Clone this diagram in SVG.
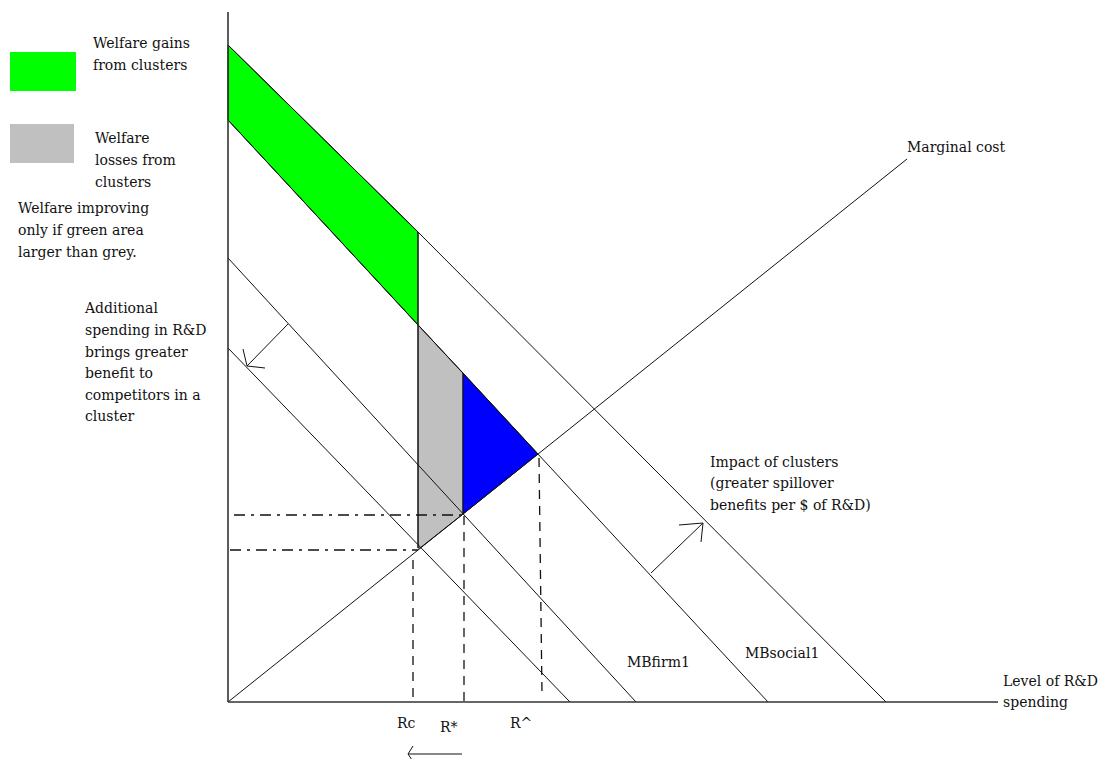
<svg xmlns="http://www.w3.org/2000/svg" width="1105" height="759" viewBox="0 0 1105 759">
<style>
text{font-family:"DejaVu Serif","Liberation Serif",serif;font-size:14px;fill:#111}
.ln{stroke:#111;stroke-width:1;fill:none}
.ax{stroke:#333;stroke-width:1.6;fill:none}
.vd{stroke:#111;stroke-width:1.3;fill:none;stroke-dasharray:9,7}
.hd{stroke:#111;stroke-width:1.3;fill:none;stroke-dasharray:11,6,3,6}
.edge{stroke:#111;stroke-width:1}
</style>
<rect width="1105" height="759" fill="#fff"/>
<g id="legend">
<rect x="10" y="52" width="66" height="39" fill="#00ff00"/>
<rect x="10" y="124" width="64" height="39" fill="#c0c0c0"/>
<text x="93" y="48">Welfare gains</text>
<text x="93" y="70">from clusters</text>
<text x="95" y="143">Welfare</text>
<text x="95" y="165">losses from</text>
<text x="95" y="187">clusters</text>
<text x="18" y="213">Welfare improving</text>
<text x="18" y="235">only if green area</text>
<text x="18" y="257">larger than grey.</text>
</g>
<g id="areas">
<polygon points="228,45 418,232 418,325 228,120" fill="#00ff00" class="edge"/>
<polygon points="418,325 463,373 463,514 420,548 418,548" fill="#c0c0c0" class="edge"/>
<polygon points="463,373 538,454 463,514" fill="#0000ff" class="edge"/>
</g>
<g id="connectors">
<polyline class="ln" points="228,45 418,232 886,702"/>
<line class="ln" x1="228" y1="120" x2="768" y2="702"/>
<line class="ln" x1="228" y1="258" x2="636" y2="702"/>
<line class="ln" x1="228" y1="348" x2="570" y2="702"/>
<line class="ln" x1="228" y1="702" x2="907" y2="159"/>
<line class="ln" x1="418" y1="232" x2="418" y2="548"/>
<line class="hd" x1="234" y1="515" x2="463" y2="515"/>
<line class="hd" x1="230" y1="550" x2="418" y2="550"/>
<line class="vd" x1="413" y1="560" x2="413" y2="702"/>
<line class="vd" x1="464" y1="516" x2="464" y2="702"/>
<polyline class="vd" points="539,458 542,694"/>
<line class="ln" x1="288" y1="324" x2="247" y2="366"/>
<polyline class="ln" points="243,349 247,366 265,368"/>
<line class="ln" x1="651" y1="573" x2="703" y2="523"/>
<polyline class="ln" points="679,525 703,523 701,542"/>
<line class="ln" x1="462" y1="754" x2="408" y2="754"/>
<polyline class="ln" points="413,746 408,754 412,760"/>
</g>
<g id="axes">
<line class="ax" x1="228" y1="12" x2="228" y2="702"/>
<line class="ax" x1="228" y1="702" x2="998" y2="702"/>
</g>
<g id="labels">
<text x="85" y="313">Additional</text>
<text x="85" y="335">spending in R&amp;D</text>
<text x="85" y="357">brings greater</text>
<text x="85" y="378">benefit to</text>
<text x="85" y="400">competitors in a</text>
<text x="85" y="421">cluster</text>
<text x="907" y="152">Marginal cost</text>
<text x="710" y="467">Impact of clusters</text>
<text x="710" y="488">(greater spillover</text>
<text x="710" y="510">benefits per $ of R&amp;D)</text>
<text x="627" y="667">MBfirm1</text>
<text x="745" y="658">MBsocial1</text>
<text x="1003" y="686">Level of R&amp;D</text>
<text x="1003" y="707">spending</text>
<text x="397" y="728">Rc</text>
<text x="440" y="732">R*</text>
<text x="510" y="728">R^</text>
</g>
</svg>
